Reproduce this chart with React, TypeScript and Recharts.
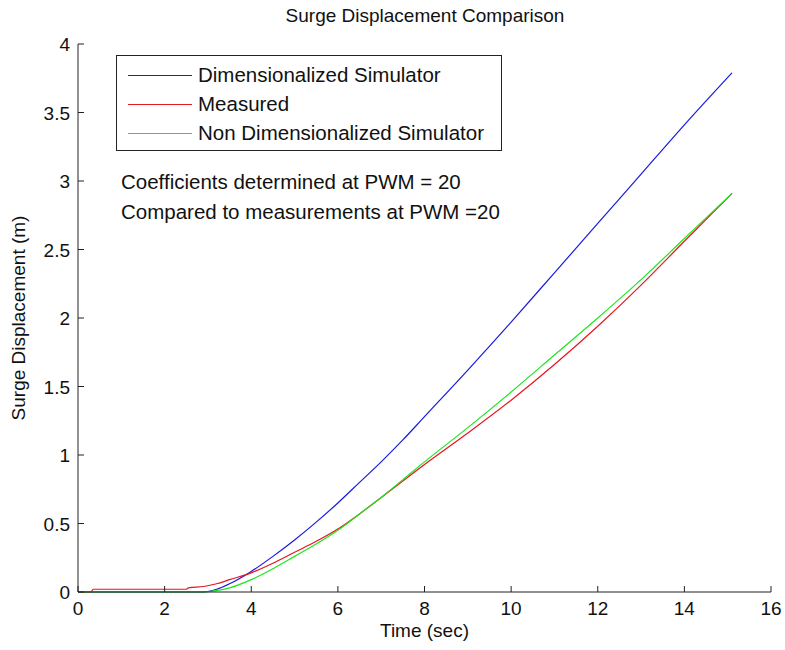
import { LineChart, Line, XAxis, YAxis } from 'recharts';

const dimTime = [0, 2.9, 3.2, 3.5, 4, 4.5, 5, 5.5, 6, 6.5, 7, 7.5, 8, 9, 10, 11, 12, 13, 14, 15.1];
const dimDisp = [0, 0, 0.02, 0.06, 0.15, 0.26, 0.38, 0.51, 0.65, 0.8, 0.95, 1.11, 1.28, 1.62, 1.97, 2.33, 2.69, 3.05, 3.41, 3.79];

const measTime = [0, 0.3, 0.35, 2.5, 2.55, 2.9, 3.2, 3.5, 4, 4.5, 5, 5.5, 6, 6.5, 7, 7.5, 8, 9, 10, 11, 12, 13, 14, 15.1];
const measDisp = [0, 0, 0.02, 0.02, 0.03, 0.04, 0.06, 0.09, 0.14, 0.21, 0.29, 0.37, 0.46, 0.57, 0.69, 0.81, 0.93, 1.16, 1.4, 1.66, 1.94, 2.24, 2.56, 2.91];

const nonDimTime = [0, 2.9, 3.2, 3.5, 4, 4.5, 5, 5.5, 6, 6.5, 7, 7.5, 8, 9, 10, 11, 12, 13, 14, 15.1];
const nonDimDisp = [0, 0, 0.01, 0.03, 0.09, 0.17, 0.26, 0.35, 0.45, 0.57, 0.69, 0.82, 0.95, 1.2, 1.46, 1.73, 2.0, 2.28, 2.58, 2.91];

const xTicks = [0, 2, 4, 6, 8, 10, 12, 14, 16];
const yTicks = [0, 0.5, 1, 1.5, 2, 2.5, 3, 3.5, 4];

const toRows = (t: number[], v: number[]) => t.map((time, i) => ({ time, value: v[i] }));

const series = [
  { name: 'Dimensionalized Simulator', color: '#1a1adc', rows: toRows(dimTime, dimDisp) },
  { name: 'Measured', color: '#e8141e', rows: toRows(measTime, measDisp) },
  { name: 'Non Dimensionalized Simulator', color: '#1ee61e', rows: toRows(nonDimTime, nonDimDisp) },
];

const font = '"Liberation Sans", Arial, sans-serif';
const TICK = 6;
const TICK_FONT = 19;

function XTick(props: any) {
  const { x, y, payload } = props;
  const axisY = y - 8;
  return (
    <g>
      <line x1={x} x2={x} y1={axisY} y2={axisY - TICK} stroke="#222" />
      <text x={x} y={y} dy={15} textAnchor="middle" fontSize={TICK_FONT} fontFamily={font} fill="#111">
        {payload.value}
      </text>
    </g>
  );
}

function YTick(props: any) {
  const { x, y, payload } = props;
  const axisX = x + 8;
  return (
    <g>
      <line x1={axisX} x2={axisX + TICK} y1={y} y2={y} stroke="#222" />
      <text x={x} y={y} dy={7} textAnchor="end" fontSize={TICK_FONT} fontFamily={font} fill="#111">
        {payload.value}
      </text>
    </g>
  );
}

export default function App() {
  return (
    <div style={{ position: 'absolute', left: 0, top: 0, width: 785, height: 650, background: '#fff', fontFamily: font }}>
      <LineChart width={785} height={650} margin={{ top: 44, right: 14, bottom: 18, left: 18 }}>
        <XAxis
          dataKey="time"
          type="number"
          domain={[0, 16]}
          ticks={xTicks}
          tickLine={false}
          tickSize={0}
          tickMargin={8}
          tick={<XTick />}
          stroke="#222"
          height={40}
          allowDuplicatedCategory={false}
        />
        <YAxis
          dataKey="value"
          type="number"
          domain={[0, 4]}
          ticks={yTicks}
          tickLine={false}
          tickSize={0}
          tickMargin={8}
          tick={<YTick />}
          stroke="#222"
          width={60}
        />
        {series.map((s) => (
          <Line
            key={s.name}
            data={s.rows}
            dataKey="value"
            name={s.name}
            type="monotone"
            stroke={s.color}
            strokeWidth={1.2}
            dot={false}
            isAnimationActive={false}
          />
        ))}
      </LineChart>

      <div style={{ position: 'absolute', left: 0, width: 850, top: 5, textAlign: 'center', fontSize: 19, color: '#111' }}>
        Surge Displacement Comparison
      </div>
      <div style={{ position: 'absolute', left: 78, width: 693, top: 620, textAlign: 'center', fontSize: 19, color: '#111' }}>
        Time (sec)
      </div>
      <div
        style={{
          position: 'absolute',
          left: 19,
          top: 318,
          transform: 'translate(-50%, -50%) rotate(-90deg)',
          whiteSpace: 'nowrap',
          fontSize: 19,
          color: '#111',
        }}
      >
        Surge Displacement (m)
      </div>

      <div
        style={{
          position: 'absolute',
          left: 116,
          top: 55,
          width: 384,
          height: 94,
          border: '1px solid #222',
          background: '#fff',
        }}
      >
        {series.map((s, i) => (
          <div
            key={s.name}
            style={{ position: 'absolute', left: 11, top: 7 + i * 29, height: 24, display: 'flex', alignItems: 'center' }}
          >
            <div style={{ width: 64, height: 1, background: s.color }} />
            <span style={{ marginLeft: 6, fontSize: 20.5, color: '#111', lineHeight: '24px' }}>{s.name}</span>
          </div>
        ))}
      </div>

      <div style={{ position: 'absolute', left: 121, top: 167, fontSize: 20.5, color: '#111', lineHeight: '30px', whiteSpace: 'nowrap' }}>
        <div>Coefficients determined at PWM = 20</div>
        <div>Compared to measurements at PWM =20</div>
      </div>
    </div>
  );
}
